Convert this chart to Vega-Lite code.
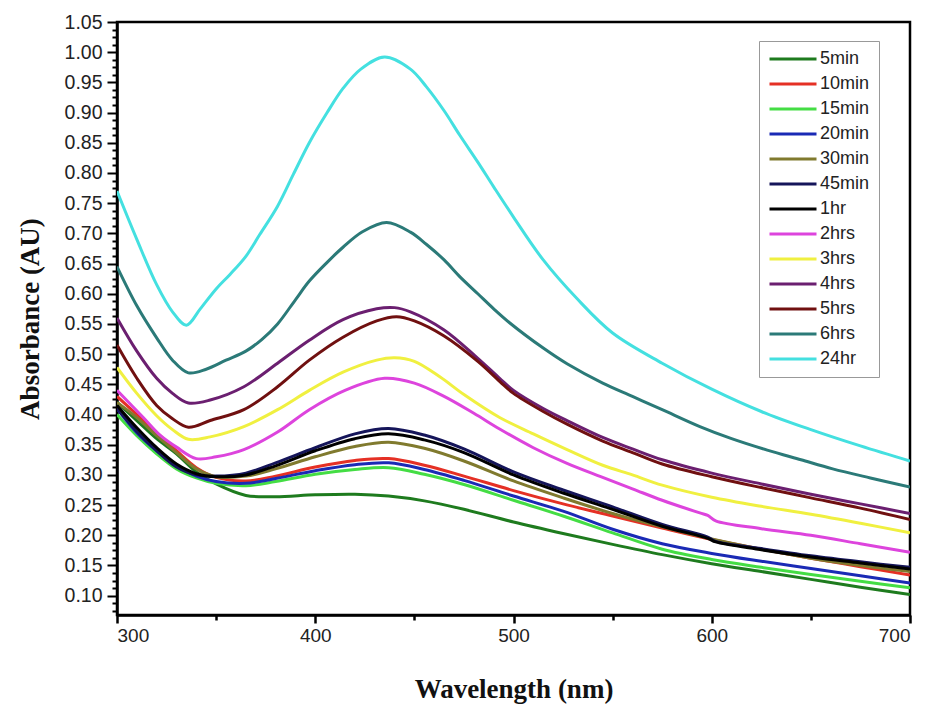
{
"$schema": "https://vega.github.io/schema/vega-lite/v6.json",
"width": 793, "height": 593,
"autosize": "none",
"padding": {"left": 117, "top": 22, "right": 19, "bottom": 89},
"background": "white",
"config": {"view": {"stroke": "black", "strokeWidth": 2.5}},
"data": {"values": [
{"s":"5min","w":300,"a":0.42},{"s":"5min","w":310,"a":0.39},{"s":"5min","w":320,"a":0.36},{"s":"5min","w":330,"a":0.335},{"s":"5min","w":340,"a":0.305},{"s":"5min","w":350,"a":0.285},{"s":"5min","w":365,"a":0.266},{"s":"5min","w":380,"a":0.264},{"s":"5min","w":400,"a":0.267},{"s":"5min","w":420,"a":0.268},{"s":"5min","w":437,"a":0.265},{"s":"5min","w":455,"a":0.257},{"s":"5min","w":475,"a":0.243},{"s":"5min","w":500,"a":0.222},{"s":"5min","w":525,"a":0.203},{"s":"5min","w":550,"a":0.185},{"s":"5min","w":575,"a":0.168},{"s":"5min","w":600,"a":0.153},{"s":"5min","w":625,"a":0.14},{"s":"5min","w":650,"a":0.127},{"s":"5min","w":675,"a":0.114},{"s":"5min","w":700,"a":0.102},
{"s":"10min","w":300,"a":0.43},{"s":"10min","w":310,"a":0.4},{"s":"10min","w":320,"a":0.37},{"s":"10min","w":330,"a":0.34},{"s":"10min","w":340,"a":0.312},{"s":"10min","w":350,"a":0.296},{"s":"10min","w":365,"a":0.29},{"s":"10min","w":380,"a":0.298},{"s":"10min","w":400,"a":0.313},{"s":"10min","w":420,"a":0.324},{"s":"10min","w":437,"a":0.327},{"s":"10min","w":455,"a":0.316},{"s":"10min","w":475,"a":0.298},{"s":"10min","w":500,"a":0.274},{"s":"10min","w":525,"a":0.252},{"s":"10min","w":550,"a":0.232},{"s":"10min","w":575,"a":0.212},{"s":"10min","w":600,"a":0.193},{"s":"10min","w":625,"a":0.177},{"s":"10min","w":650,"a":0.162},{"s":"10min","w":675,"a":0.148},{"s":"10min","w":700,"a":0.134},
{"s":"15min","w":300,"a":0.4},{"s":"15min","w":310,"a":0.365},{"s":"15min","w":320,"a":0.335},{"s":"15min","w":330,"a":0.31},{"s":"15min","w":340,"a":0.295},{"s":"15min","w":350,"a":0.286},{"s":"15min","w":365,"a":0.282},{"s":"15min","w":380,"a":0.289},{"s":"15min","w":400,"a":0.301},{"s":"15min","w":420,"a":0.309},{"s":"15min","w":437,"a":0.312},{"s":"15min","w":455,"a":0.301},{"s":"15min","w":475,"a":0.284},{"s":"15min","w":500,"a":0.258},{"s":"15min","w":525,"a":0.232},{"s":"15min","w":550,"a":0.204},{"s":"15min","w":575,"a":0.177},{"s":"15min","w":600,"a":0.16},{"s":"15min","w":625,"a":0.147},{"s":"15min","w":650,"a":0.135},{"s":"15min","w":675,"a":0.124},{"s":"15min","w":700,"a":0.113},
{"s":"20min","w":300,"a":0.41},{"s":"20min","w":310,"a":0.37},{"s":"20min","w":320,"a":0.34},{"s":"20min","w":330,"a":0.315},{"s":"20min","w":340,"a":0.298},{"s":"20min","w":350,"a":0.289},{"s":"20min","w":365,"a":0.286},{"s":"20min","w":380,"a":0.294},{"s":"20min","w":400,"a":0.307},{"s":"20min","w":420,"a":0.317},{"s":"20min","w":437,"a":0.32},{"s":"20min","w":455,"a":0.309},{"s":"20min","w":475,"a":0.291},{"s":"20min","w":500,"a":0.265},{"s":"20min","w":525,"a":0.24},{"s":"20min","w":550,"a":0.21},{"s":"20min","w":575,"a":0.186},{"s":"20min","w":600,"a":0.17},{"s":"20min","w":625,"a":0.157},{"s":"20min","w":650,"a":0.145},{"s":"20min","w":675,"a":0.133},{"s":"20min","w":700,"a":0.121},
{"s":"30min","w":300,"a":0.42},{"s":"30min","w":310,"a":0.395},{"s":"30min","w":320,"a":0.365},{"s":"30min","w":330,"a":0.337},{"s":"30min","w":340,"a":0.31},{"s":"30min","w":350,"a":0.297},{"s":"30min","w":365,"a":0.298},{"s":"30min","w":380,"a":0.31},{"s":"30min","w":400,"a":0.33},{"s":"30min","w":420,"a":0.347},{"s":"30min","w":437,"a":0.354},{"s":"30min","w":455,"a":0.344},{"s":"30min","w":475,"a":0.323},{"s":"30min","w":500,"a":0.29},{"s":"30min","w":525,"a":0.262},{"s":"30min","w":550,"a":0.236},{"s":"30min","w":575,"a":0.214},{"s":"30min","w":600,"a":0.194},{"s":"30min","w":625,"a":0.177},{"s":"30min","w":650,"a":0.162},{"s":"30min","w":675,"a":0.15},{"s":"30min","w":700,"a":0.14},
{"s":"45min","w":300,"a":0.41},{"s":"45min","w":310,"a":0.372},{"s":"45min","w":320,"a":0.34},{"s":"45min","w":330,"a":0.313},{"s":"45min","w":340,"a":0.3},{"s":"45min","w":350,"a":0.298},{"s":"45min","w":365,"a":0.303},{"s":"45min","w":380,"a":0.32},{"s":"45min","w":400,"a":0.345},{"s":"45min","w":420,"a":0.368},{"s":"45min","w":437,"a":0.377},{"s":"45min","w":455,"a":0.366},{"s":"45min","w":475,"a":0.343},{"s":"45min","w":500,"a":0.305},{"s":"45min","w":525,"a":0.275},{"s":"45min","w":550,"a":0.247},{"s":"45min","w":575,"a":0.218},{"s":"45min","w":598,"a":0.197},{"s":"45min","w":602,"a":0.19},{"s":"45min","w":625,"a":0.178},{"s":"45min","w":650,"a":0.166},{"s":"45min","w":675,"a":0.156},{"s":"45min","w":700,"a":0.147},
{"s":"1hr","w":300,"a":0.415},{"s":"1hr","w":310,"a":0.378},{"s":"1hr","w":320,"a":0.345},{"s":"1hr","w":330,"a":0.318},{"s":"1hr","w":340,"a":0.302},{"s":"1hr","w":350,"a":0.297},{"s":"1hr","w":365,"a":0.3},{"s":"1hr","w":380,"a":0.315},{"s":"1hr","w":400,"a":0.34},{"s":"1hr","w":420,"a":0.36},{"s":"1hr","w":437,"a":0.368},{"s":"1hr","w":455,"a":0.358},{"s":"1hr","w":475,"a":0.337},{"s":"1hr","w":500,"a":0.3},{"s":"1hr","w":525,"a":0.27},{"s":"1hr","w":550,"a":0.243},{"s":"1hr","w":575,"a":0.215},{"s":"1hr","w":598,"a":0.195},{"s":"1hr","w":602,"a":0.189},{"s":"1hr","w":625,"a":0.176},{"s":"1hr","w":650,"a":0.164},{"s":"1hr","w":675,"a":0.154},{"s":"1hr","w":700,"a":0.144},
{"s":"2hrs","w":300,"a":0.44},{"s":"2hrs","w":313,"a":0.396},{"s":"2hrs","w":322,"a":0.365},{"s":"2hrs","w":330,"a":0.346},{"s":"2hrs","w":340,"a":0.327},{"s":"2hrs","w":350,"a":0.33},{"s":"2hrs","w":364,"a":0.342},{"s":"2hrs","w":381,"a":0.371},{"s":"2hrs","w":397,"a":0.408},{"s":"2hrs","w":415,"a":0.44},{"s":"2hrs","w":435,"a":0.46},{"s":"2hrs","w":450,"a":0.452},{"s":"2hrs","w":465,"a":0.43},{"s":"2hrs","w":480,"a":0.402},{"s":"2hrs","w":493,"a":0.376},{"s":"2hrs","w":510,"a":0.345},{"s":"2hrs","w":527,"a":0.319},{"s":"2hrs","w":544,"a":0.297},{"s":"2hrs","w":560,"a":0.277},{"s":"2hrs","w":575,"a":0.258},{"s":"2hrs","w":594,"a":0.237},{"s":"2hrs","w":598,"a":0.233},{"s":"2hrs","w":602,"a":0.224},{"s":"2hrs","w":625,"a":0.211},{"s":"2hrs","w":650,"a":0.2},{"s":"2hrs","w":675,"a":0.186},{"s":"2hrs","w":700,"a":0.172},
{"s":"3hrs","w":300,"a":0.478},{"s":"3hrs","w":310,"a":0.435},{"s":"3hrs","w":320,"a":0.398},{"s":"3hrs","w":328,"a":0.375},{"s":"3hrs","w":336,"a":0.359},{"s":"3hrs","w":347,"a":0.363},{"s":"3hrs","w":364,"a":0.38},{"s":"3hrs","w":381,"a":0.408},{"s":"3hrs","w":397,"a":0.44},{"s":"3hrs","w":414,"a":0.47},{"s":"3hrs","w":431,"a":0.49},{"s":"3hrs","w":440,"a":0.494},{"s":"3hrs","w":450,"a":0.488},{"s":"3hrs","w":463,"a":0.462},{"s":"3hrs","w":475,"a":0.433},{"s":"3hrs","w":493,"a":0.395},{"s":"3hrs","w":510,"a":0.368},{"s":"3hrs","w":527,"a":0.342},{"s":"3hrs","w":545,"a":0.316},{"s":"3hrs","w":560,"a":0.3},{"s":"3hrs","w":575,"a":0.283},{"s":"3hrs","w":600,"a":0.263},{"s":"3hrs","w":625,"a":0.248},{"s":"3hrs","w":650,"a":0.235},{"s":"3hrs","w":675,"a":0.22},{"s":"3hrs","w":700,"a":0.204},
{"s":"4hrs","w":300,"a":0.56},{"s":"4hrs","w":310,"a":0.505},{"s":"4hrs","w":320,"a":0.46},{"s":"4hrs","w":328,"a":0.435},{"s":"4hrs","w":336,"a":0.419},{"s":"4hrs","w":347,"a":0.424},{"s":"4hrs","w":364,"a":0.446},{"s":"4hrs","w":381,"a":0.485},{"s":"4hrs","w":397,"a":0.523},{"s":"4hrs","w":414,"a":0.557},{"s":"4hrs","w":431,"a":0.575},{"s":"4hrs","w":440,"a":0.577},{"s":"4hrs","w":448,"a":0.57},{"s":"4hrs","w":465,"a":0.54},{"s":"4hrs","w":482,"a":0.493},{"s":"4hrs","w":493,"a":0.46},{"s":"4hrs","w":500,"a":0.44},{"s":"4hrs","w":515,"a":0.41},{"s":"4hrs","w":527,"a":0.39},{"s":"4hrs","w":545,"a":0.362},{"s":"4hrs","w":560,"a":0.343},{"s":"4hrs","w":575,"a":0.325},{"s":"4hrs","w":600,"a":0.303},{"s":"4hrs","w":625,"a":0.285},{"s":"4hrs","w":650,"a":0.268},{"s":"4hrs","w":675,"a":0.252},{"s":"4hrs","w":700,"a":0.236},
{"s":"5hrs","w":300,"a":0.515},{"s":"5hrs","w":310,"a":0.46},{"s":"5hrs","w":320,"a":0.415},{"s":"5hrs","w":328,"a":0.393},{"s":"5hrs","w":336,"a":0.379},{"s":"5hrs","w":347,"a":0.39},{"s":"5hrs","w":364,"a":0.408},{"s":"5hrs","w":381,"a":0.446},{"s":"5hrs","w":397,"a":0.49},{"s":"5hrs","w":414,"a":0.528},{"s":"5hrs","w":431,"a":0.555},{"s":"5hrs","w":441,"a":0.562},{"s":"5hrs","w":450,"a":0.555},{"s":"5hrs","w":465,"a":0.53},{"s":"5hrs","w":482,"a":0.488},{"s":"5hrs","w":493,"a":0.455},{"s":"5hrs","w":500,"a":0.435},{"s":"5hrs","w":515,"a":0.405},{"s":"5hrs","w":527,"a":0.384},{"s":"5hrs","w":545,"a":0.356},{"s":"5hrs","w":560,"a":0.337},{"s":"5hrs","w":575,"a":0.318},{"s":"5hrs","w":600,"a":0.297},{"s":"5hrs","w":625,"a":0.279},{"s":"5hrs","w":650,"a":0.262},{"s":"5hrs","w":675,"a":0.245},{"s":"5hrs","w":700,"a":0.226},
{"s":"6hrs","w":300,"a":0.645},{"s":"6hrs","w":310,"a":0.58},{"s":"6hrs","w":320,"a":0.527},{"s":"6hrs","w":328,"a":0.49},{"s":"6hrs","w":336,"a":0.469},{"s":"6hrs","w":345,"a":0.475},{"s":"6hrs","w":355,"a":0.49},{"s":"6hrs","w":365,"a":0.505},{"s":"6hrs","w":373,"a":0.524},{"s":"6hrs","w":381,"a":0.55},{"s":"6hrs","w":390,"a":0.59},{"s":"6hrs","w":397,"a":0.621},{"s":"6hrs","w":406,"a":0.652},{"s":"6hrs","w":414,"a":0.677},{"s":"6hrs","w":424,"a":0.703},{"s":"6hrs","w":436,"a":0.718},{"s":"6hrs","w":448,"a":0.702},{"s":"6hrs","w":456,"a":0.682},{"s":"6hrs","w":465,"a":0.656},{"s":"6hrs","w":473,"a":0.628},{"s":"6hrs","w":482,"a":0.6},{"s":"6hrs","w":490,"a":0.575},{"s":"6hrs","w":498,"a":0.552},{"s":"6hrs","w":515,"a":0.51},{"s":"6hrs","w":527,"a":0.484},{"s":"6hrs","w":545,"a":0.452},{"s":"6hrs","w":560,"a":0.43},{"s":"6hrs","w":575,"a":0.408},{"s":"6hrs","w":594,"a":0.38},{"s":"6hrs","w":610,"a":0.36},{"s":"6hrs","w":628,"a":0.341},{"s":"6hrs","w":645,"a":0.325},{"s":"6hrs","w":661,"a":0.31},{"s":"6hrs","w":680,"a":0.295},{"s":"6hrs","w":700,"a":0.28},
{"s":"24hr","w":300,"a":0.77},{"s":"24hr","w":310,"a":0.69},{"s":"24hr","w":320,"a":0.615},{"s":"24hr","w":328,"a":0.57},{"s":"24hr","w":335,"a":0.548},{"s":"24hr","w":342,"a":0.575},{"s":"24hr","w":350,"a":0.608},{"s":"24hr","w":357,"a":0.632},{"s":"24hr","w":365,"a":0.662},{"s":"24hr","w":372,"a":0.698},{"s":"24hr","w":381,"a":0.745},{"s":"24hr","w":389,"a":0.798},{"s":"24hr","w":397,"a":0.85},{"s":"24hr","w":406,"a":0.9},{"s":"24hr","w":414,"a":0.94},{"s":"24hr","w":423,"a":0.972},{"s":"24hr","w":435,"a":0.992},{"s":"24hr","w":448,"a":0.972},{"s":"24hr","w":456,"a":0.943},{"s":"24hr","w":465,"a":0.903},{"s":"24hr","w":473,"a":0.862},{"s":"24hr","w":482,"a":0.818},{"s":"24hr","w":490,"a":0.777},{"s":"24hr","w":500,"a":0.727},{"s":"24hr","w":515,"a":0.656},{"s":"24hr","w":532,"a":0.592},{"s":"24hr","w":550,"a":0.535},{"s":"24hr","w":575,"a":0.485},{"s":"24hr","w":600,"a":0.442},{"s":"24hr","w":625,"a":0.405},{"s":"24hr","w":650,"a":0.375},{"s":"24hr","w":675,"a":0.348},{"s":"24hr","w":700,"a":0.323}
]},
"mark": {"type": "line", "interpolate": "catmull-rom", "strokeWidth": 3, "clip": true},
"encoding": {
"x": {"field": "w", "type": "quantitative",
 "scale": {"domain": [300, 700], "nice": false, "zero": false},
 "axis": {"values": [300,350,400,450,500,550,600,650,700], "format": "d",
  "labelExpr": "datum.value % 100 === 0 ? datum.label : ''",
  "title": "Wavelength (nm)", "titleFont": "Liberation Serif", "titleFontWeight": "bold", "titleFontSize": 27, "titleColor": "#111", "titlePadding": 31,
  "labelFont": "Liberation Sans", "labelFontSize": 19, "labelColor": "#222", "labelPadding": 3,
  "domainColor": "black", "domainWidth": 2.5, "tickColor": "black", "tickWidth": 2.5,
  "tickSize": {"condition": {"test": "datum.value % 100 === 0", "value": 8}, "value": 5},
  "grid": false}},
"y": {"field": "a", "type": "quantitative",
 "scale": {"domain": [0.068, 1.05], "nice": false, "zero": false},
 "axis": {"values": [0.075,0.0875,0.1,0.1125,0.125,0.1375,0.15,0.1625,0.175,0.1875,0.2,0.2125,0.225,0.2375,0.25,0.2625,0.275,0.2875,0.3,0.3125,0.325,0.3375,0.35,0.3625,0.375,0.3875,0.4,0.4125,0.425,0.4375,0.45,0.4625,0.475,0.4875,0.5,0.5125,0.525,0.5375,0.55,0.5625,0.575,0.5875,0.6,0.6125,0.625,0.6375,0.65,0.6625,0.675,0.6875,0.7,0.7125,0.725,0.7375,0.75,0.7625,0.775,0.7875,0.8,0.8125,0.825,0.8375,0.85,0.8625,0.875,0.8875,0.9,0.9125,0.925,0.9375,0.95,0.9625,0.975,0.9875,1.0,1.0125,1.025,1.0375,1.05],
  "labelExpr": "abs(datum.value*20 - round(datum.value*20)) < 0.001 ? format(datum.value, '.2f') : ''",
  "title": "Absorbance (AU)", "titleFont": "Liberation Serif", "titleFontWeight": "bold", "titleFontSize": 27, "titleColor": "#111", "titlePadding": 20,
  "labelFont": "Liberation Sans", "labelFontSize": 19.5, "labelColor": "#222", "labelPadding": 5,
  "domainColor": "black", "domainWidth": 2.5, "tickColor": "black", "tickWidth": 2,
  "tickSize": {"condition": {"test": "abs(datum.value*20 - round(datum.value*20)) < 0.001", "value": 10}, "value": 5},
  "grid": false}},
"color": {"field": "s", "type": "nominal",
 "scale": {"domain": ["5min","10min","15min","20min","30min","45min","1hr","2hrs","3hrs","4hrs","5hrs","6hrs","24hr"],
  "range": ["#1e7b1e","#e53025","#44dd44","#1a2ab5","#807a2e","#15155a","#000000","#dd44dd","#f0f040","#6b1f70","#701010","#2b7a78","#44e0e0"]},
 "legend": {"title": null, "orient": "none", "legendX": 642, "legendY": 19,
  "symbolType": "stroke", "symbolSize": 2209, "symbolStrokeWidth": 3, "clipHeight": 18, "rowPadding": 7,
  "labelFont": "Liberation Sans", "labelFontSize": 18, "labelColor": "#222", "labelOffset": 2,
  "strokeColor": "#999", "fillColor": "white", "padding": 9}}
}
}
